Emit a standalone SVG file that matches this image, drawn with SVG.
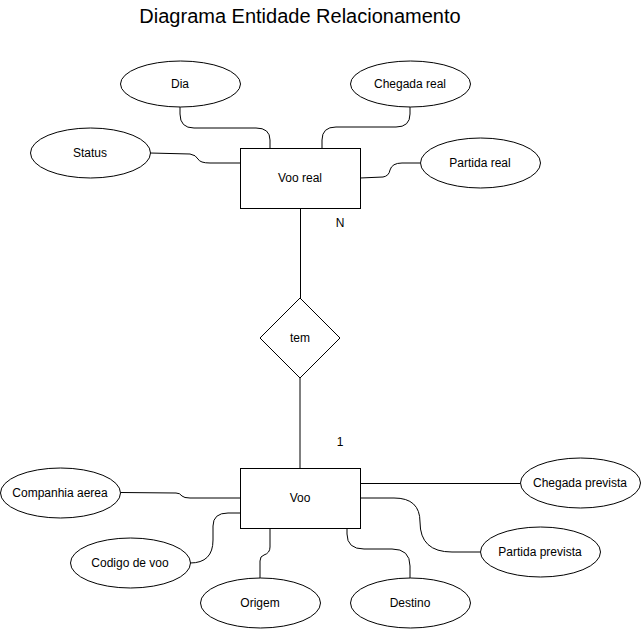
<svg xmlns="http://www.w3.org/2000/svg" width="642" height="630" viewBox="0 0 642 630">
<style>
.s{fill:#fff;stroke:#000;stroke-width:1}
.e{fill:none;stroke:#000;stroke-width:1}
text{font-family:"Liberation Sans",Arial,sans-serif;font-size:12px;fill:#000;text-anchor:middle;dominant-baseline:central}
.title{font-size:20px}
</style>
<rect width="642" height="630" fill="#fff"/>
<text class="title" x="300" y="16">Diagrama Entidade Relacionamento</text>
<g id="connectors">
<path class="e" d="M180,106 L180,114 Q180,128 194,128 L256,128 Q270,128 270,140 L270,148"/>
<path class="e" d="M410,106 L410,114 Q410,127 396,127 L336,127 Q322,127 322,140 L322,148"/>
<path class="e" d="M150,153 L190,154 Q196,155 198,159 Q200,163 210,163 L240,163"/>
<path class="e" d="M360,178 L383,177 Q389,176 390,170 Q392,163 402,163 L420,163"/>
<path class="e" d="M300.5,208 L300.5,298"/>
<path d="M300,378 L300,468" fill="none" stroke="#000" stroke-width="1"/>
<path class="e" d="M121,492.5 L176,493 Q180,493 182,496 Q184,498 190,498 L240,498"/>
<path class="e" d="M360,483.5 L520,483.5"/>
<path class="e" d="M190,563 Q213,563 213,540 L213,526 Q213,513 228,513 L240,513"/>
<path class="e" d="M260,578 L260,561 Q260,556 264,555 Q270,553 270,547 L270,528"/>
<path class="e" d="M347,528 L347,534 Q347,549 364,549 L392,549 Q410,549 410,566 L410,578"/>
<path class="e" d="M360,498 L394,498 Q420,498 420,522 Q420,552 452,552 L480,552"/>
</g>
<g id="lbl-n"><text x="340" y="223">N</text></g>
<g id="lbl-1"><text x="340" y="442">1</text></g>
<g id="voo-real"><rect class="s" x="240.5" y="148.5" width="120" height="60"/><text x="300" y="178">Voo real</text></g>
<g id="tem"><polygon class="s" points="300,298 340,338 300,378 260,338"/><text x="300" y="338">tem</text></g>
<g id="voo"><rect class="s" x="240.5" y="468.5" width="120" height="60"/><text x="300" y="498">Voo</text></g>
<g id="dia"><ellipse class="s" cx="180.5" cy="84" rx="60" ry="23"/><text x="180" y="84">Dia</text></g>
<g id="chegada-real"><ellipse class="s" cx="410.5" cy="84" rx="60" ry="23"/><text x="410" y="84">Chegada real</text></g>
<g id="status"><ellipse class="s" cx="90.5" cy="153" rx="60" ry="25"/><text x="90" y="153">Status</text></g>
<g id="partida-real"><ellipse class="s" cx="480.5" cy="163" rx="60" ry="25"/><text x="480" y="163">Partida real</text></g>
<g id="companhia-aerea"><ellipse class="s" cx="60.5" cy="493" rx="60" ry="25"/><text x="60" y="493">Companhia aerea</text></g>
<g id="chegada-prevista"><ellipse class="s" cx="580.5" cy="483" rx="60" ry="25"/><text x="580" y="483">Chegada prevista</text></g>
<g id="codigo-de-voo"><ellipse class="s" cx="130.5" cy="563" rx="60" ry="25"/><text x="130" y="563">Codigo de voo</text></g>
<g id="partida-prevista"><ellipse class="s" cx="540.5" cy="552" rx="60" ry="25"/><text x="540" y="552">Partida prevista</text></g>
<g id="origem"><ellipse class="s" cx="260.5" cy="603" rx="60" ry="25"/><text x="260" y="603">Origem</text></g>
<g id="destino"><ellipse class="s" cx="410.5" cy="603" rx="60" ry="25"/><text x="410" y="603">Destino</text></g>
</svg>
